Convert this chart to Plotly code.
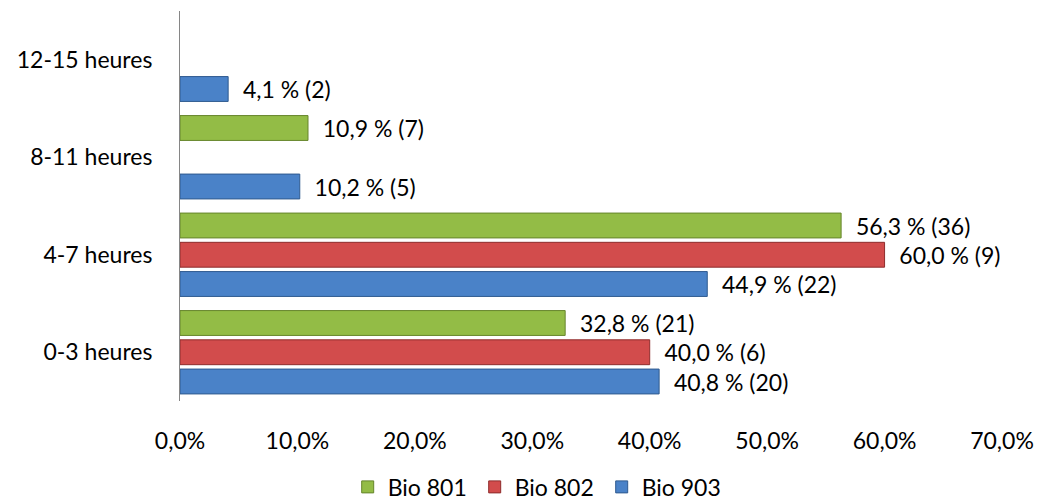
import plotly.graph_objects as go

categories = ["0-3 heures", "4-7 heures", "8-11 heures", "12-15 heures"]

# Percentages and counts per group (None = no bar for that slot)
bio903_pct = [40.8, 44.9, 10.2, 4.1]
bio903_n = [20, 22, 5, 2]
bio802_pct = [40.0, 60.0, None, None]
bio802_n = [6, 9, None, None]
bio801_pct = [32.8, 56.3, 10.9, None]
bio801_n = [21, 36, 7, None]

x_ticks = [0, 10, 20, 30, 40, 50, 60, 70]
x_tick_labels = ["0,0%", "10,0%", "20,0%", "30,0%", "40,0%", "50,0%", "60,0%", "70,0%"]

FONT = "Lato, 'Open Sans', sans-serif"
SIZE = 23


def labels(pcts, counts):
    out = []
    for p, n in zip(pcts, counts):
        if p is None:
            out.append("")
        else:
            out.append("  " + f"{p:.1f}".replace(".", ",") + f" % ({n})")
    return out


series = [
    ("Bio 903", bio903_pct, bio903_n, "#4A82C8", "#2F5A8F"),
    ("Bio 802", bio802_pct, bio802_n, "#D24C4C", "#8E2C2C"),
    ("Bio 801", bio801_pct, bio801_n, "#93BC46", "#66852C"),
]

fig = go.Figure()
for name, pcts, counts, color, edge in series:
    fig.add_trace(go.Bar(
        y=categories,
        x=pcts,
        name=name,
        orientation="h",
        marker=dict(color=color, line=dict(color=edge, width=1)),
        text=labels(pcts, counts),
        textposition="outside",
        constraintext="none",
        cliponaxis=False,
        textfont=dict(family=FONT, size=SIZE, color="#000000"),
    ))

fig.update_layout(
    width=1039,
    height=502,
    margin=dict(l=180, r=37, t=11, b=101, autoexpand=False),
    paper_bgcolor="white",
    plot_bgcolor="white",
    barmode="group",
    bargap=0.1,
    bargroupgap=0.15,
    font=dict(family=FONT, size=SIZE, color="#000000"),
    showlegend=True,
    legend=dict(
        orientation="h",
        xref="container",
        x=0.518, xanchor="center",
        yref="container",
        y=0.03, yanchor="middle",
        traceorder="reversed",
        font=dict(family=FONT, size=SIZE),
        itemwidth=30,
        entrywidth=82,
        entrywidthmode="pixels",
        tracegroupgap=0,
    ),
    xaxis=dict(
        range=[0, 70],
        tickvals=x_ticks,
        ticktext=x_tick_labels,
        showgrid=False,
        zeroline=False,
        showline=False,
        ticks="",
        ticklabelstandoff=24,
        automargin=False,
    ),
    yaxis=dict(
        showgrid=False,
        zeroline=False,
        showline=True,
        linecolor="#868686",
        linewidth=1,
        ticks="",
        ticklabelstandoff=22,
        automargin=False,
        categoryorder="array",
        categoryarray=categories,
    ),
)

fig.write_html("out.html")
